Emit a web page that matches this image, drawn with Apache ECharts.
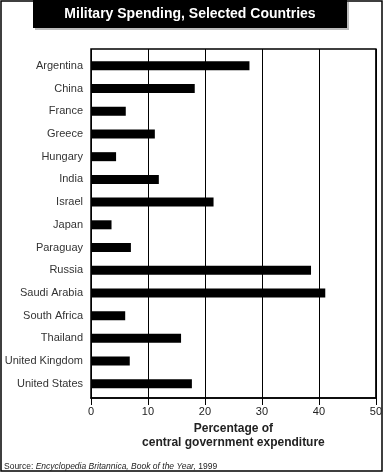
<!DOCTYPE html>
<html><head><meta charset="utf-8">
<script src="https://cdn.jsdelivr.net/npm/echarts@6/dist/echarts.min.js"></script>
<style>html,body{margin:0;padding:0;background:#fff}#c{width:385px;height:474px}</style>
</head><body><div id="c"></div>
<script>
const categories = ["Argentina","China","France","Greece","Hungary","India","Israel","Japan","Paraguay","Russia","Saudi Arabia","South Africa","Thailand","United Kingdom","United States"];
const values = [27.8,18.2,6.1,11.2,4.4,11.9,21.5,3.6,7.0,38.6,41.1,6.0,15.8,6.8,17.7];
const xTicks = [0,10,20,30,40,50];
const titleText = "Military Spending, Selected Countries";
const axisTitle = "Percentage of\ncentral government expenditure";

const chart = echarts.init(document.getElementById('c'), null, {renderer:'canvas'});
const F = '"Liberation Sans", Arial, Helvetica, sans-serif';
chart.setOption({
  animation:false,
  backgroundColor:'#fff',
  graphic:[
    {type:'rect', shape:{x:1,y:1,width:381,height:470}, style:{fill:'none',stroke:'#000',lineWidth:1.5}, z:0},
    {type:'rect', shape:{x:35,y:2,width:314,height:28}, style:{fill:'#bbb'}, z:1},
    {type:'rect', shape:{x:33,y:0,width:314,height:28}, style:{fill:'#000'}, z:2},
    {type:'text', style:{text:titleText, x:190, y:14, align:'center', verticalAlign:'middle', fill:'#fff', font:'bold 14px '+F}, z:3},
    {type:'text', style:{x:4, y:467, verticalAlign:'middle', rich:{n:{fontSize:8.5,fontFamily:F,fill:'#222'}, i:{fontSize:8.5,fontFamily:F,fontStyle:'italic',fill:'#222'}}, text:'{n|Source: }{i|Encyclopedia Britannica, Book of the Year,}{n| 1999}'}, z:3}
  ],
  grid:[
    {left:91, right:9, top:49, bottom:76, show:true, borderColor:'#000', borderWidth:1.5, backgroundColor:'transparent'},
    {left:91, right:9, top:54.5, height:340.6}
  ],
  xAxis:[
    {gridIndex:0, type:'value', min:xTicks[0], max:xTicks[xTicks.length-1], interval:10,
     axisLine:{show:true, lineStyle:{color:'#000', width:1.5}},
     axisTick:{show:true, length:7, lineStyle:{color:'#000'}},
     axisLabel:{color:'#222', fontSize:11, fontFamily:F, margin:8},
     splitLine:{show:true, lineStyle:{color:'#000', width:1}},
     name:axisTitle, nameLocation:'middle', nameGap:23,
     nameTextStyle:{color:'#222', fontSize:12, fontWeight:'bold', fontFamily:F, lineHeight:14, verticalAlign:'top'}},
    {gridIndex:1, type:'value', min:0, max:50, show:false, splitLine:{show:false}}
  ],
  yAxis:[
    {gridIndex:0, type:'value', show:false, splitLine:{show:false}},
    {gridIndex:1, type:'category', data:categories, inverse:true,
     axisLine:{show:false}, axisTick:{show:false},
     axisLabel:{color:'#333', fontSize:11, fontFamily:F, margin:8}}
  ],
  series:[
    {type:'bar', xAxisIndex:1, yAxisIndex:1, data:values, barWidth:9, itemStyle:{color:'#000'}, z:5}
  ]
});
</script></body></html>
